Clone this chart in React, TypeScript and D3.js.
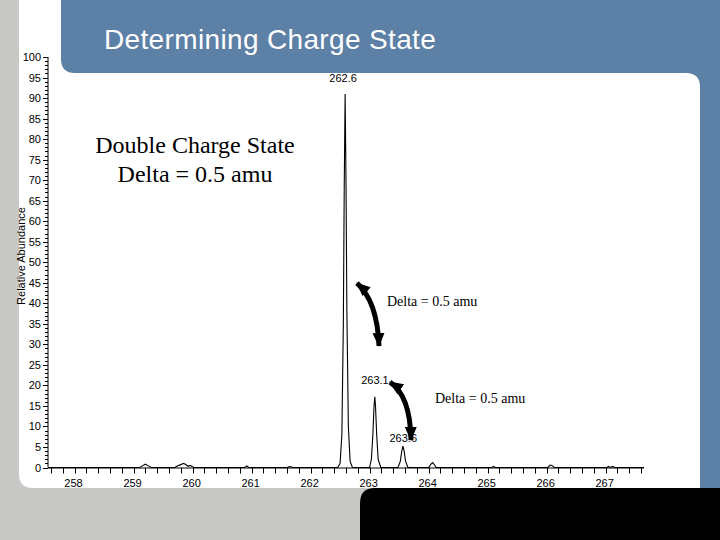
import React from "react";
import * as d3 from "d3";

// ---- data ----
const spectrumMz = [
  257.55, 259.1, 259.15, 259.2, 259.25, 259.3, 259.7, 259.75, 259.8, 259.84, 259.88, 259.92, 259.96, 260.0, 260.03,
  260.88, 260.92, 260.95, 261.6, 261.65, 261.7,
  262.46, 262.5, 262.53, 262.555, 262.57, 262.585, 262.6, 262.615, 262.64, 262.67, 262.71,
  263.0, 263.03, 263.055, 263.075, 263.088, 263.1, 263.12, 263.145, 263.19,
  263.48, 263.52, 263.545, 263.565, 263.585, 263.61, 263.65,
  264.0, 264.04, 264.07, 264.1, 264.13,
  265.07, 265.1, 265.13,
  266.02, 266.06, 266.09, 266.13,
  267.02, 267.05, 267.08, 267.12, 267.15, 267.65,
];
const spectrumInt = [
  0, 0, 0.4, 0.8, 0.4, 0, 0, 0.4, 0.7, 1.0, 0.8, 0.3, 0.5, 0.2, 0,
  0, 0.4, 0,
  0, 0.2, 0,
  0, 1, 8, 35, 68, 91, 70, 38, 10, 1.5, 0,
  0, 2, 8, 15, 17.2, 15, 8, 2, 0,
  0, 1.5, 4, 5.2, 4, 1.5, 0,
  0, 0.8, 1.2, 0.6, 0,
  0, 0.25, 0,
  0, 0.6, 0.5, 0,
  0, 0.25, 0, 0.25, 0, 0,
];
const peakLabels = ["262.6", "263.1", "263.6"];
const peakLabelMz = [262.55, 263.09, 263.57];
const peakLabelInt = [94, 20.3, 6.3];
const xTickLabels = [258, 259, 260, 261, 262, 263, 264, 265, 266, 267];
const yTickLabels = [0, 5, 10, 15, 20, 25, 30, 35, 40, 45, 50, 55, 60, 65, 70, 75, 80, 85, 90, 95, 100];
const arrowStart = [[262.786, 44.9], [263.345, 20.8]];
const arrowCtrl = [[263.13, 40.5], [263.69, 17.5]];
const arrowEnd = [[263.159, 29.6], [263.701, 6.7]];
const deltaText = ["Delta  = 0.5 amu", "Delta = 0.5 amu"];
const deltaPos = [[263.295, 39.3], [264.108, 15.7]];

const W = 720, H = 540;
const BLUE = "#5d80a7";
const GRAY = "#c8c9c6";

export default function App() {
  const x = d3.scaleLinear().domain([257.55, 267.65]).range([48, 644]);
  const y = d3.scaleLinear().domain([0, 100]).range([467.5, 57]);
  const pts: [number, number][] = spectrumMz.map((m, i) => [m, spectrumInt[i]]);
  const line = d3.line<[number, number]>().x((d) => x(d[0])).y((d) => y(d[1]));
  const xMinor = d3.range(0, 51).map((i) => 257.6 + i * 0.2);
  const yMinor = d3.range(0, 101);
  const axisFont = "Arial, 'Liberation Sans', sans-serif";
  const serif = "'Times New Roman', 'Liberation Serif', serif";

  return (
    <svg width={W} height={H} style={{ position: "absolute", left: 0, top: 0 }}>
      <defs>
        <marker id="ah" viewBox="0 0 14 12" refX="13" refY="6" markerWidth="14" markerHeight="12"
          markerUnits="userSpaceOnUse" orient="auto-start-reverse">
          <path d="M0,0 L14,6 L0,12 Z" fill="#000" />
        </marker>
      </defs>
      <rect x={0} y={0} width={W} height={H} fill={GRAY} />
      <path d="M19,0 H720 V488 H33 Q19,488 19,474 Z" fill="#fff" />
      <path d="M61,0 H720 V488 H700 V87 Q700,73 686,73 H75 Q61,73 61,59 Z" fill={BLUE} />
      <path d={`M360,540 V503 Q360,488 375,488 H720 V540 Z`} fill="#000" />

      <text x={104} y={49} fill="#fff" fontFamily={axisFont} fontSize={28} letterSpacing={0.35}>Determining Charge State</text>

      {/* axes */}
      <line x1={48} x2={48} y1={y(100)} y2={y(0)} stroke="#000" strokeWidth={1} />
      <line x1={48} x2={644} y1={y(0) + 0.5} y2={y(0) + 0.5} stroke="#000" strokeWidth={1} />
      {yMinor.map((v) => (
        <line key={"ym" + v} x1={v % 5 === 0 ? 43 : 45} x2={48} y1={Math.round(y(v)) + 0.5} y2={Math.round(y(v)) + 0.5}
          stroke="#000" strokeWidth={1} />
      ))}
      {yTickLabels.map((v) => (
        <text key={"yl" + v} x={41} y={y(v) + 4} textAnchor="end" fontFamily={axisFont} fontSize={11}>{v}</text>
      ))}
      {xMinor.map((v, i) => (
        <line key={"xm" + i} x1={Math.round(x(v)) + 0.5} x2={Math.round(x(v)) + 0.5} y1={y(0)} y2={y(0) + 6}
          stroke="#000" strokeWidth={1} />
      ))}
      {xTickLabels.map((v) => (
        <text key={"xl" + v} x={x(v) - 1} y={487} textAnchor="middle" fontFamily={axisFont} fontSize={11}>{v}</text>
      ))}
      <text transform={`translate(25,256) rotate(-90)`} textAnchor="middle" fontFamily={axisFont} fontSize={11}>Relative Abundance</text>

      {/* spectrum */}
      <path d={line(pts) || ""} fill="none" stroke="#000" strokeWidth={1.1} />
      {peakLabels.map((t, i) => (
        <text key={t} x={x(peakLabelMz[i])} y={y(peakLabelInt[i])} textAnchor="middle" fontFamily={axisFont} fontSize={11}>{t}</text>
      ))}

      {/* annotations */}
      <text x={195} y={153} textAnchor="middle" fontFamily={serif} fontSize={24}>Double Charge State</text>
      <text x={195} y={182} textAnchor="middle" fontFamily={serif} fontSize={24}>Delta = 0.5 amu</text>
      {arrowStart.map((s, i) => (
        <path key={"ar" + i}
          d={`M${x(s[0])},${y(s[1])} Q${x(arrowCtrl[i][0])},${y(arrowCtrl[i][1])} ${x(arrowEnd[i][0])},${y(arrowEnd[i][1])}`}
          fill="none" stroke="#000" strokeWidth={5} markerStart="url(#ah)" markerEnd="url(#ah)" />
      ))}
      {deltaText.map((t, i) => (
        <text key={"dt" + i} x={x(deltaPos[i][0])} y={y(deltaPos[i][1])} fontFamily={serif} fontSize={14}>{t}</text>
      ))}
    </svg>
  );
}
